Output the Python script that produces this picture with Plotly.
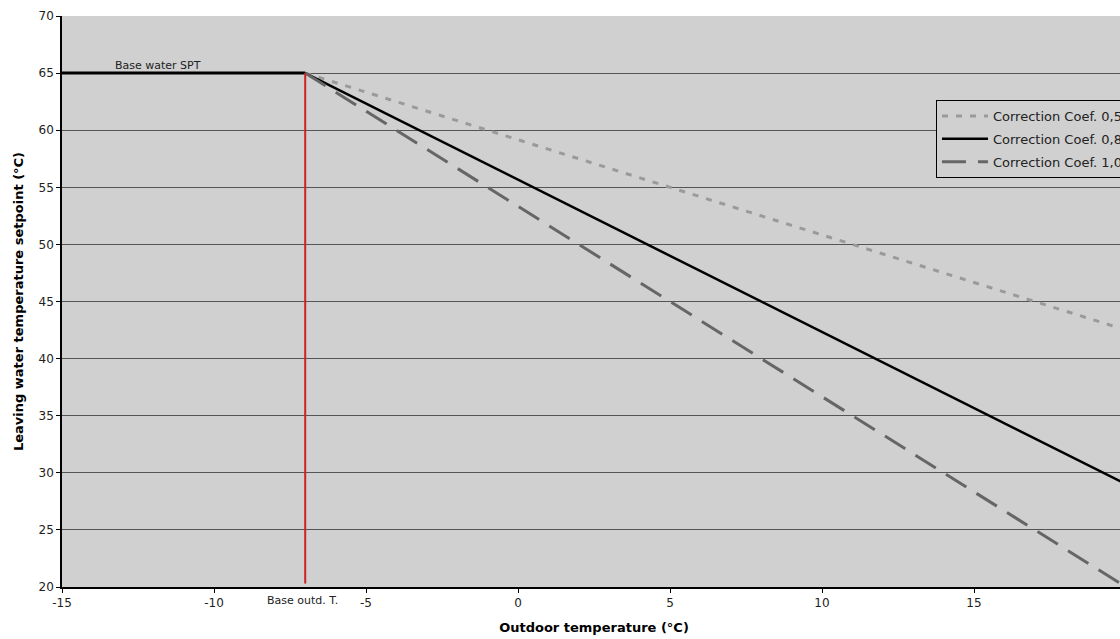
import plotly.graph_objects as go

# Data
base_x = [-15, -7]
base_y = [65, 65]
base_outd_t = -7
line_x = [-7, 20]
coef05_y = [65, 42.5]
coef08_y = [65, 29]
coef10_y = [65, 20]
names = ["Correction Coef. 0,5", "Correction Coef. 0,8", "Correction Coef. 1,0"]
x_ticks = [-15, -10, -5, 0, 5, 10, 15]
x_tick_labels = ["-15", "-10", "-5", "0", "5", "10", "15"]
y_ticks = [20, 25, 30, 35, 40, 45, 50, 55, 60, 65, 70]

FONT = "DejaVu Sans"
fig = go.Figure()

fig.add_trace(go.Scatter(x=line_x, y=coef05_y, mode="lines", name=names[0], legendgroup="a",
                         line=dict(color="#9a9a9a", width=3, dash="6px,8px")))
fig.add_trace(go.Scatter(x=line_x, y=coef08_y, mode="lines", name=names[1], legendgroup="b",
                         line=dict(color="black", width=2.5)))
fig.add_trace(go.Scatter(x=line_x, y=coef10_y, mode="lines", name=names[2], legendgroup="c",
                         line=dict(color="#666666", width=3, dash="24px,12px")))
fig.add_trace(go.Scatter(x=base_x, y=base_y, mode="lines", showlegend=False,
                         line=dict(color="black", width=3)))
fig.add_trace(go.Scatter(x=[base_outd_t, base_outd_t], y=[20.3, 65], mode="lines",
                         showlegend=False, line=dict(color="#cc2222", width=2)))

fig.add_annotation(x=-11.85, y=65, yshift=8, text="Base water SPT", showarrow=False,
                   font=dict(family=FONT, size=11, color="#222"))
fig.add_annotation(x=-7.1, y=0, yref="paper", yanchor="top", yshift=-5, text="Base outd. T.",
                   showarrow=False, font=dict(family=FONT, size=11, color="#222"))

fig.update_layout(
    width=1160, height=639,
    margin=dict(l=62, r=34, t=16, b=52, autoexpand=False),
    paper_bgcolor="white", plot_bgcolor="#d0d0d0",
    font=dict(family=FONT, size=12, color="#222"),
    legend=dict(x=0.8214, y=0.853, xanchor="left", yanchor="top",
                bgcolor="#d0d0d0", bordercolor="black", borderwidth=1,
                font=dict(family=FONT, size=13, color="#222"),
                itemwidth=46, tracegroupgap=3),
    xaxis=dict(range=[-15, 20], tickvals=x_ticks, ticktext=x_tick_labels,
               showgrid=False, zeroline=False, automargin=False,
               showline=True, linecolor="black", linewidth=1.5, mirror=False,
               ticks="outside", ticklen=4, tickcolor="black",
               tickfont=dict(family=FONT, size=12, color="#222"),
               title=dict(text="<b>Outdoor temperature (°C)</b>", font=dict(family=FONT, size=13, color="black"), standoff=14)),
    yaxis=dict(range=[20, 70], tickvals=y_ticks, showgrid=True, gridcolor="#555555", gridwidth=1,
               zeroline=False, showline=True, linecolor="black", linewidth=1.5, mirror=True,
               ticks="outside", ticklen=4, tickcolor="black", automargin=False,
               tickfont=dict(family=FONT, size=12, color="#222"),
               title=dict(text="<b>Leaving water temperature setpoint (°C)</b>", font=dict(family=FONT, size=13, color="black"), standoff=12)),
)

fig.write_html("out.html", config={"displayModeBar": False},
               post_script="document.body.style.margin='0';document.body.style.overflow='hidden';")
